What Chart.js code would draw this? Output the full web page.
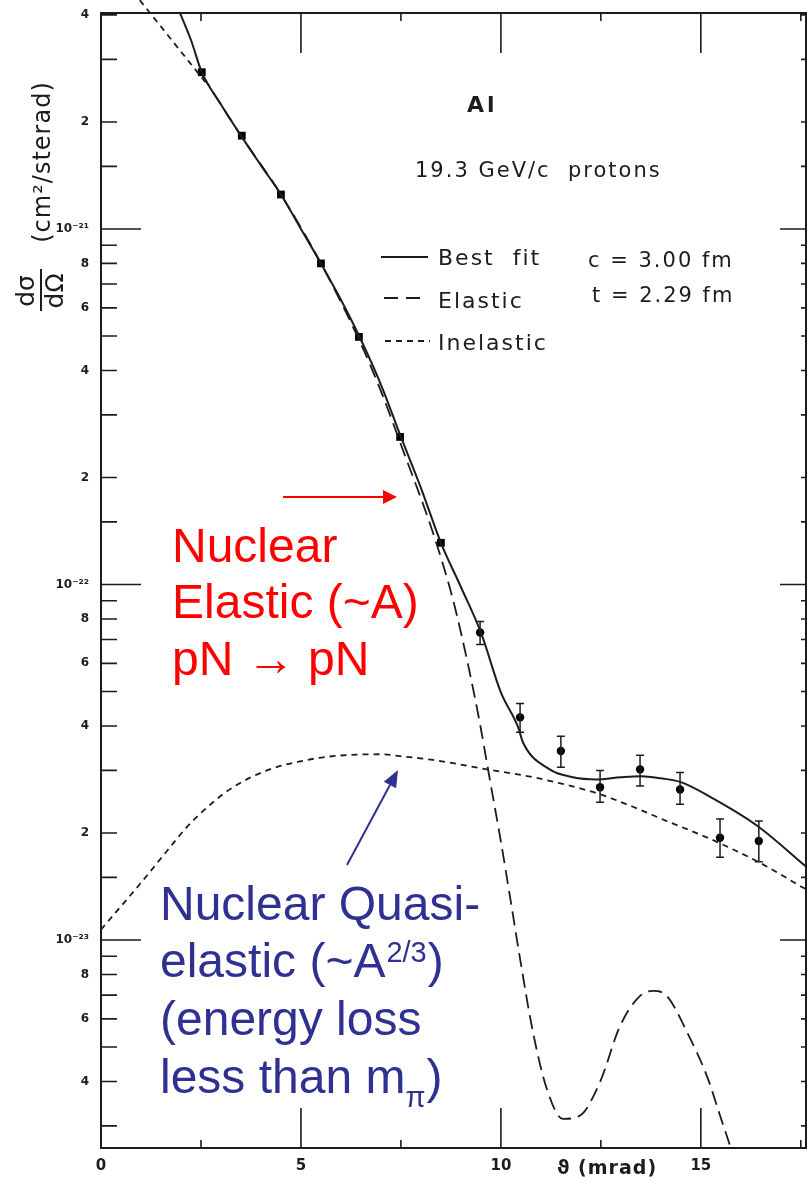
<!DOCTYPE html>
<html>
<head>
  <title>Al - 19.3 GeV/c protons</title>
  <style>
    body { margin: 0; background: #fff; }
    #wrap { width: 807px; height: 1186px; }
  </style>
</head>
<body>
  <div id="wrap"><canvas id="canvas"></canvas></div>
  <script src="https://cdn.jsdelivr.net/npm/chart.js"></script>
  <script>
    // measured points: theta (mrad) and d(sigma)/d(Omega) in cm^2/sterad
    var pointTheta = [2.52, 3.52, 4.5, 5.5, 6.45, 7.48, 8.5, 9.48, 10.48, 11.5, 12.48, 13.48, 14.48, 15.48, 16.45];
    var pointSigma = [2.76e-21, 1.83e-21, 1.25e-21, 8.0e-22, 4.97e-22, 2.6e-22, 1.31e-22, 7.33e-23, 4.23e-23, 3.40e-23, 2.69e-23, 3.02e-23, 2.65e-23, 1.94e-23, 1.90e-23];
    var errHigh = [null, null, null, null, null, null, null, 7.87e-23, 4.63e-23, 3.74e-23, 3.0e-23, 3.31e-23, 2.96e-23, 2.19e-23, 2.16e-23];
    var errLow  = [null, null, null, null, null, null, null, 6.78e-23, 3.84e-23, 3.06e-23, 2.44e-23, 2.71e-23, 2.41e-23, 1.71e-23, 1.66e-23];

    // best fit curve
    var fitTheta = [1.98, 2.25, 2.52, 3.0, 3.5, 4.0, 4.5, 5.0, 5.5, 6.0, 6.5, 7.0, 7.5, 8.0, 8.5, 9.0, 9.5, 10.0, 10.43, 10.55, 11.22, 11.8, 12.4, 13.0, 13.5, 14.0, 14.5, 15.2, 16.4, 17.63];
    var fitSigma = [4.04e-21, 3.4e-21, 2.76e-21, 2.24e-21, 1.83e-21, 1.51e-21, 1.25e-21, 1.0e-21, 8.0e-22, 6.32e-22, 4.88e-22, 3.65e-22, 2.6e-22, 1.87e-22, 1.31e-22, 9.84e-23, 7.33e-23, 4.97e-23, 3.97e-23, 3.6e-23, 3.02e-23, 2.87e-23, 2.83e-23, 2.87e-23, 2.89e-23, 2.85e-23, 2.78e-23, 2.54e-23, 2.10e-23, 1.61e-23];

    // elastic part
    var elasticTheta = [2.52, 3.5, 4.5, 5.5, 6.5, 7.0, 7.55, 8.3, 8.8, 9.15, 9.48, 9.73, 9.98, 10.23, 10.48, 10.8, 11.15, 11.55, 11.98, 12.48, 12.98, 13.48, 13.8, 14.15, 14.65, 15.15, 15.48, 15.73];
    var elasticSigma = [2.72e-21, 1.83e-21, 1.25e-21, 8.0e-22, 4.75e-22, 3.5e-22, 2.39e-22, 1.40e-22, 9.08e-23, 6.16e-23, 4.04e-23, 2.80e-23, 1.95e-23, 1.32e-23, 8.85e-24, 5.52e-24, 3.81e-24, 3.14e-24, 3.21e-24, 3.99e-24, 5.73e-24, 6.96e-24, 7.19e-24, 6.96e-24, 5.52e-24, 4.15e-24, 3.21e-24, 2.64e-24];

    // inelastic (quasi-elastic) part
    var inelasticTheta = [0.0, 0.98, 1.65, 2.15, 2.8, 3.3, 4.15, 4.98, 5.8, 7.05, 7.48, 8.3, 9.65, 10.8, 11.65, 12.48, 13.3, 14.15, 14.98, 15.8, 16.65, 17.48, 17.63];
    var inelasticSigma = [1.07e-23, 1.44e-23, 1.78e-23, 2.08e-23, 2.44e-23, 2.69e-23, 3.0e-23, 3.18e-23, 3.29e-23, 3.33e-23, 3.29e-23, 3.21e-23, 3.02e-23, 2.87e-23, 2.73e-23, 2.57e-23, 2.37e-23, 2.16e-23, 1.98e-23, 1.80e-23, 1.61e-23, 1.42e-23, 1.39e-23];

    // dashed extension at the top left (runs out of the frame)
    var extraTheta = [0.97, 2.62];
    var extraSigma = [4.4e-21, 2.58e-21];

    var xTicks = [0, 2.5, 5, 7.5, 10, 12.5, 15, 17.5];
    var xLabelled = [0, 5, 10, 15];
    var yMantissas = [1, 1.5, 2, 3, 4, 5, 6, 7, 8, 9];
    var yLabelled = [2, 4, 6, 8];
    var yDecades = [-24, -23, -22, -21];

    var xMin = 0, xMax = 17.63, yMin = 2.6e-24, yMax = 4.05e-21;
    var ink = '#1c1c1c';
    var red = '#ff0000';
    var blue = '#2e3192';

    function zip(xs, ys) {
      return xs.map(function (x, i) { return {x: x, y: ys[i]}; });
    }

    var sup = {'-': '\u207B', '0': '\u2070', '1': '\u00B9', '2': '\u00B2', '3': '\u00B3', '4': '\u2074'};
    function decadeLabel(e) {
      return '10' + String(e).split('').map(function (c) { return sup[c]; }).join('');
    }

    // y tick values (value, mantissa, exponent)
    var yTickList = [];
    yDecades.forEach(function (d) {
      yMantissas.forEach(function (m) {
        var v = m * Math.pow(10, d);
        if (v >= yMin && v <= yMax * 1.001) yTickList.push({value: v, m: m, e: d});
      });
    });

    function drawArrow(ctx, x1, y1, x2, y2, color, head, half) {
      var a = Math.atan2(y2 - y1, x2 - x1);
      var bx = x2 - head * Math.cos(a), by = y2 - head * Math.sin(a);
      ctx.strokeStyle = color;
      ctx.fillStyle = color;
      ctx.lineWidth = 2;
      ctx.beginPath();
      ctx.moveTo(x1, y1);
      ctx.lineTo(bx, by);
      ctx.stroke();
      ctx.beginPath();
      ctx.moveTo(x2, y2);
      ctx.lineTo(bx + half * Math.sin(a), by - half * Math.cos(a));
      ctx.lineTo(bx - half * Math.sin(a), by + half * Math.cos(a));
      ctx.closePath();
      ctx.fill();
    }

    function noPad(s) {
      s.paddingTop = 0; s.paddingBottom = 0; s.paddingLeft = 0; s.paddingRight = 0;
    }

    var errorBars = {
      id: 'errorBars',
      afterDatasetsDraw: function (chart) {
        var ctx = chart.ctx, xs = chart.scales.x, ys = chart.scales.y;
        ctx.save();
        ctx.strokeStyle = ink;
        ctx.lineWidth = 1.5;
        pointTheta.forEach(function (t, i) {
          if (errHigh[i] == null) return;
          var px = xs.getPixelForValue(t);
          var top = ys.getPixelForValue(errHigh[i]);
          var bot = ys.getPixelForValue(errLow[i]);
          ctx.beginPath();
          ctx.moveTo(px, top); ctx.lineTo(px, bot);
          ctx.moveTo(px - 4, top); ctx.lineTo(px + 4, top);
          ctx.moveTo(px - 4, bot); ctx.lineTo(px + 4, bot);
          ctx.stroke();
        });
        ctx.restore();
      }
    };

    var frameAndNotes = {
      id: 'frameAndNotes',
      afterDraw: function (chart) {
        var ctx = chart.ctx, a = chart.chartArea;
        var xs = chart.scales.x, ys = chart.scales.y;
        ctx.save();

        // frame with inward ticks
        ctx.strokeStyle = ink;
        ctx.lineWidth = 2;
        ctx.strokeRect(a.left, a.top, a.right - a.left, a.bottom - a.top);
        ctx.lineWidth = 1.6;
        ctx.beginPath();
        yTickList.forEach(function (t) {
          var py = ys.getPixelForValue(t.value);
          var major = t.m === 1;
          ctx.moveTo(a.left, py); ctx.lineTo(a.left + (major ? 40 : 16), py);
          ctx.moveTo(a.right, py); ctx.lineTo(a.right - (major ? 26 : 5), py);
        });
        xTicks.forEach(function (v) {
          var px = xs.getPixelForValue(v);
          var major = v % 5 === 0 && v > 0;
          if (v === 0) return;
          ctx.moveTo(px, a.top); ctx.lineTo(px, a.top + (major ? 40 : 8));
          ctx.moveTo(px, a.bottom); ctx.lineTo(px, a.bottom - (major ? 40 : 8));
        });
        ctx.stroke();

        // axis titles
        ctx.fillStyle = ink;
        ctx.textBaseline = 'middle';
        ctx.textAlign = 'center';
        ctx.font = 'bold 19px "DejaVu Sans"';
        ctx.letterSpacing = '1px';
        ctx.fillText('\u03D1 (mrad)', 607, 1169);

        ctx.save();
        ctx.translate(44, 162);
        ctx.rotate(-Math.PI / 2);
        ctx.font = '24px "DejaVu Sans"';
        ctx.letterSpacing = '1px';
        ctx.fillText('(cm\u00B2/sterad)', 0, 0);
        ctx.restore();

        ctx.save();
        ctx.translate(41, 291);
        ctx.rotate(-Math.PI / 2);
        ctx.font = '25px "DejaVu Sans"';
        ctx.letterSpacing = '0px';
        ctx.fillText('d\u03C3', 0, -14);
        ctx.fillText('d\u03A9', 0, 15);
        ctx.lineWidth = 2;
        ctx.beginPath();
        ctx.moveTo(-20, 0); ctx.lineTo(22, 0);
        ctx.stroke();
        ctx.restore();

        // plot notes
        ctx.textAlign = 'left';
        ctx.textBaseline = 'alphabetic';
        ctx.font = 'bold 22px "DejaVu Sans"';
        ctx.letterSpacing = '3px';
        ctx.fillText('Al', 467, 112);
        ctx.font = '21px "DejaVu Sans"';
        ctx.letterSpacing = '2px';
        ctx.fillText('19.3 GeV/c  protons', 415, 177);
        ctx.fillText('c = 3.00 fm', 588, 267);
        ctx.fillText('t = 2.29 fm', 592, 302);
        ctx.font = '22px "DejaVu Sans"';
        ctx.letterSpacing = '2px';
        ctx.fillText('Best  fit', 438, 265);
        ctx.fillText('Elastic', 438, 308);
        ctx.fillText('Inelastic', 438, 350);

        // legend samples
        ctx.lineWidth = 2;
        ctx.beginPath(); ctx.moveTo(381, 257); ctx.lineTo(428, 257); ctx.stroke();
        ctx.setLineDash([14, 8]);
        ctx.beginPath(); ctx.moveTo(384, 298); ctx.lineTo(428, 298); ctx.stroke();
        ctx.setLineDash([6, 5]);
        ctx.beginPath(); ctx.moveTo(385, 341); ctx.lineTo(430, 341); ctx.stroke();
        ctx.setLineDash([]);

        // red annotation
        ctx.letterSpacing = '0px';
        ctx.fillStyle = red;
        ctx.font = '48px "Liberation Sans", Arial, sans-serif';
        ctx.fillText('Nuclear', 172, 562);
        ctx.fillText('Elastic (~A)', 172, 618);
        ctx.fillText('pN \u2192 pN', 172, 675);
        drawArrow(ctx, 283, 497, 397, 497, red, 14, 7);

        // blue annotation
        ctx.fillStyle = blue;
        ctx.fillText('Nuclear Quasi-', 160, 920);
        var s1 = 'elastic (~A';
        ctx.fillText(s1, 160, 977);
        var w1 = ctx.measureText(s1).width;
        ctx.font = '29px "Liberation Sans", Arial, sans-serif';
        ctx.fillText('2/3', 160 + w1 + 1, 962);
        var w2 = ctx.measureText('2/3').width;
        ctx.font = '48px "Liberation Sans", Arial, sans-serif';
        ctx.fillText(')', 160 + w1 + w2 + 2, 977);
        ctx.fillText('(energy loss', 160, 1035);
        var s3 = 'less than m';
        ctx.fillText(s3, 160, 1093);
        var w3 = ctx.measureText(s3).width;
        ctx.font = '29px "Liberation Sans", Arial, sans-serif';
        ctx.fillText('\u03C0', 160 + w3, 1107);
        var w4 = ctx.measureText('\u03C0').width;
        ctx.font = '48px "Liberation Sans", Arial, sans-serif';
        ctx.fillText(')', 160 + w3 + w4 + 1, 1093);
        drawArrow(ctx, 347, 865, 398, 770, blue, 17, 7);

        ctx.restore();
      }
    };

    var config = {
      type: 'scatter',
      data: {
        datasets: [
          {
            label: 'Inelastic',
            data: zip(inelasticTheta, inelasticSigma),
            showLine: true, borderColor: ink, borderWidth: 1.8, borderDash: [6, 5],
            pointRadius: 0, cubicInterpolationMode: 'monotone'
          },
          {
            label: 'Elastic',
            data: zip(elasticTheta, elasticSigma),
            showLine: true, borderColor: ink, borderWidth: 1.8, borderDash: [14, 7],
            pointRadius: 0, cubicInterpolationMode: 'monotone'
          },
          {
            label: 'extension',
            data: zip(extraTheta, extraSigma),
            showLine: true, borderColor: ink, borderWidth: 1.8, borderDash: [6, 5],
            pointRadius: 0, clip: false
          },
          {
            label: 'Best fit',
            data: zip(fitTheta, fitSigma),
            showLine: true, borderColor: ink, borderWidth: 2,
            pointRadius: 0, cubicInterpolationMode: 'monotone'
          },
          {
            label: 'Data',
            data: zip(pointTheta, pointSigma),
            showLine: false,
            pointStyle: function (c) { return c.dataIndex < 7 ? 'rect' : 'circle'; },
            pointRadius: function (c) { return c.dataIndex < 7 ? 5.5 : 4.2; },
            backgroundColor: '#000', borderColor: '#000', borderWidth: 0
          }
        ]
      },
      options: {
        responsive: true,
        maintainAspectRatio: false,
        animation: false,
        layout: { autoPadding: false, padding: { top: 13, right: 1, left: 0, bottom: 0 } },
        plugins: { legend: { display: false }, tooltip: { enabled: false } },
        scales: {
          x: {
            type: 'linear',
            min: xMin, max: xMax,
            grid: { display: false, drawTicks: false },
            border: { display: false },
            afterBuildTicks: function (s) { s.ticks = xTicks.map(function (v) { return {value: v}; }); },
            afterFit: function (s) { s.height = 38; noPad(s); },
            ticks: {
              autoSkip: false, maxRotation: 0, padding: 9, color: ink,
              font: { family: 'DejaVu Sans', size: 15, weight: 'bold' },
              callback: function (v) { return xLabelled.indexOf(v) >= 0 ? String(v) : ''; }
            }
          },
          y: {
            type: 'logarithmic',
            min: yMin, max: yMax,
            grid: { display: false, drawTicks: false },
            border: { display: false },
            afterBuildTicks: function (s) { s.ticks = yTickList.map(function (t) { return {value: t.value}; }); },
            afterFit: function (s) { s.width = 101; noPad(s); },
            ticks: {
              autoSkip: false, padding: 12, color: ink,
              font: { family: 'DejaVu Sans', size: 12, weight: 'bold' },
              callback: function (v, i) {
                var t = yTickList[i];
                if (!t) return '';
                if (t.m === 1) return decadeLabel(t.e);
                return yLabelled.indexOf(t.m) >= 0 ? String(t.m) : '';
              }
            }
          }
        }
      },
      plugins: [errorBars, frameAndNotes]
    };

    window.onload = function () {
      var ctx = document.getElementById('canvas').getContext('2d');
      window.myChart = new Chart(ctx, config);
    };
  </script>
</body>
</html>
